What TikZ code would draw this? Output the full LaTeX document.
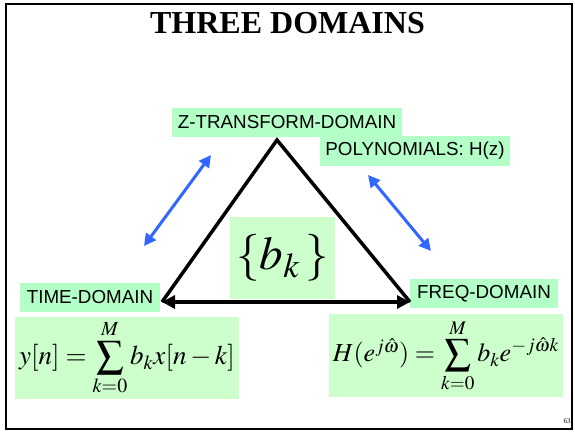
\documentclass[tikz,border=0pt]{standalone}
\usepackage{mathptmx}
\usepackage{fontspec}
\setmainfont{Liberation Serif}
\newfontfamily\arialfont{Liberation Sans}
\usetikzlibrary{arrows.meta}
\definecolor{lblgreen}{RGB}{179,255,199}
\definecolor{eqgreen}{RGB}{204,255,204}
\definecolor{arrblue}{RGB}{51,102,255}
\tikzset{
  lbl/.style={fill=lblgreen, inner sep=0pt, font=\arialfont\fontsize{18.8}{20}\selectfont, text=black},
  eqbox/.style={fill=eqgreen, inner sep=0pt},
  tri/.style={line width=3.5pt, black},
  blu/.style={line width=3pt, arrblue, {Triangle[length=12pt,width=12pt]}-{Triangle[length=12pt,width=12pt]}},
  frame/.style={line width=2.5pt, black}
}
\begin{document}
\begin{tikzpicture}[x=1pt,y=-1pt]
\useasboundingbox (0,0) rectangle (575,431);
\draw[frame] (6,4) rectangle (572,429);
\node[font=\bfseries\fontsize{32}{34}\selectfont, anchor=base] (title) at (287.5,33) {THREE DOMAINS};
% label boxes
\node[lbl, minimum width=230pt, minimum height=29pt] (zt) at (287,122.5) {Z-TRANSFORM-DOMAIN};
\node[lbl, minimum width=190pt, minimum height=30pt] (poly) at (415,151) {POLYNOMIALS: H(z)};
\node[lbl, minimum width=140pt, minimum height=29pt] (time) at (90,297.5) {TIME-DOMAIN};
\node[lbl, minimum width=148pt, minimum height=29pt] (freq) at (484,293.5) {FREQ-DOMAIN};
% b_k box
\node[eqbox, minimum width=105pt, minimum height=82pt, font=\fontsize{47}{50}\selectfont] (bk) at (282.5,258) {$\{b_k\,\}$};
% equations
\node[eqbox, minimum width=224pt, minimum height=82pt, font=\fontsize{27}{30}\selectfont] (eqL) at (127,358) {$y[n]=\displaystyle\sum_{k=0}^{M} b_k x[n-k]$};
\node[eqbox, minimum width=234pt, minimum height=83pt, font=\fontsize{26}{30}\selectfont] (eqR) at (446,355.5) {$H(e^{j\hat\omega})=\displaystyle\sum_{k=0}^{M} b_k e^{-j\hat\omega k}$};
% triangle
\coordinate (apex) at (277,140);
\coordinate (bl) at (162,302);
\coordinate (br) at (410,302);
\draw[tri, line join=miter] (bl) -- (apex) -- (br);
\draw[tri, {Triangle[length=13pt,width=13pt]}-{Triangle[length=13pt,width=13pt]}] (bl) -- (br);
% blue arrows
\coordinate (l1) at (144,246);
\coordinate (l2) at (211,155);
\coordinate (r1) at (368,175);
\coordinate (r2) at (431,251);
\draw[blu] (l1) -- (l2);
\draw[blu] (r1) -- (r2);
\node[font=\fontsize{7}{8}\selectfont] (pg) at (567,421) {63};
\end{tikzpicture}
\end{document}
